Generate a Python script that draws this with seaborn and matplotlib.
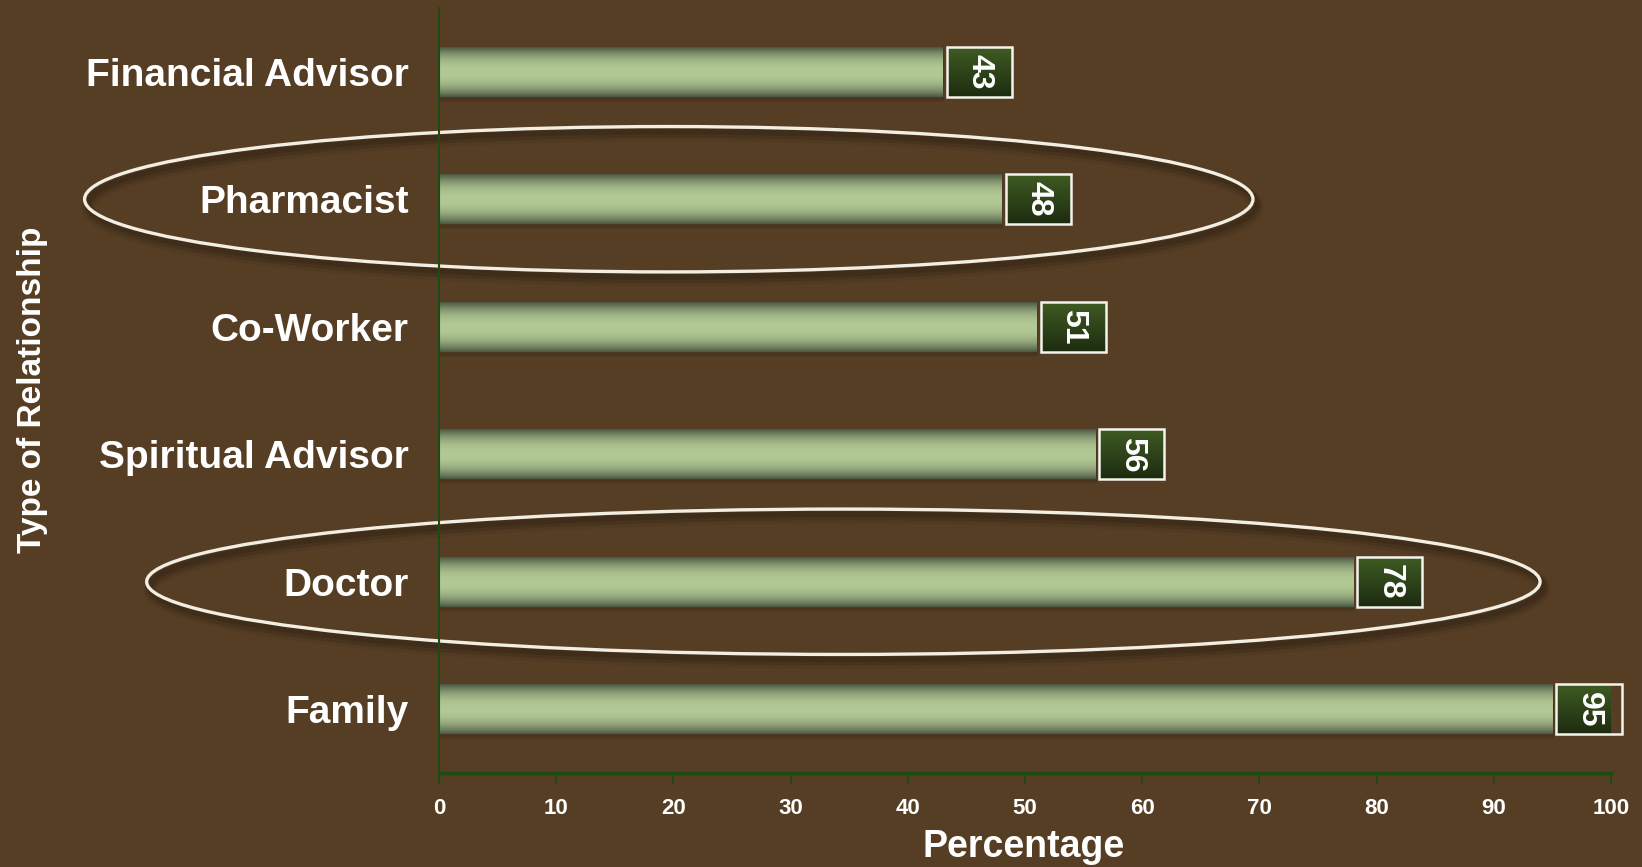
import numpy as np
import pandas as pd
import matplotlib
matplotlib.use("Agg")
import matplotlib.pyplot as plt
import seaborn as sns
from matplotlib.patches import Ellipse, Rectangle
from matplotlib.colors import to_rgb

# ---- data ----
categories = ["Financial Advisor", "Pharmacist", "Co-Worker",
              "Spiritual Advisor", "Doctor", "Family"]
percentages = [43, 48, 51, 56, 78, 95]
x_ticks = [0, 10, 20, 30, 40, 50, 60, 70, 80, 90, 100]
highlighted = ["Pharmacist", "Doctor"]

BG = "#563e24"
AXIS_GREEN = "#1f4a10"
BAR_LIGHT = "#b2c995"
BAR_DARK = "#4e5944"
BOX_TOP = "#3f5c23"
BOX_BOT = "#1d2b10"

sns.set_theme(style="white")
plt.rcParams['font.family'] = ['Liberation Sans', 'DejaVu Sans']
plt.rcParams['font.weight'] = 'bold'

fig = plt.figure(figsize=(16.42, 8.67), dpi=100, facecolor=BG)
ax = fig.add_axes([0.2674, 0.1084, 0.7137, 0.8824])
ax.set_facecolor(BG)

df = pd.DataFrame({"Relationship": categories, "Percentage": percentages})
sns.barplot(data=df, x="Percentage", y="Relationship", order=categories,
            orient="h", width=0.39, color=BAR_LIGHT, edgecolor="#4a3a22",
            linewidth=1.0, saturation=1, ax=ax, zorder=2)

# gradient fill for bars
t = np.linspace(0, 1, 64)
prof = np.abs(2 * t - 1) ** 2.2
light = np.array(to_rgb(BAR_LIGHT))
dark = np.array(to_rgb(BAR_DARK))
bar_grad = (light[None, :] * (1 - prof[:, None]) + dark[None, :] * prof[:, None])[:, None, :]

top = np.array(to_rgb(BOX_TOP))
bot = np.array(to_rgb(BOX_BOT))
box_grad = (top[None, :] * (1 - t[:, None]) + bot[None, :] * t[:, None])[:, None, :]

box_gap = 0.35
box_w = 5.55
for patch, val in zip(ax.patches, percentages):
    x0 = patch.get_x()
    y0 = patch.get_y()
    w = patch.get_width()
    h = patch.get_height()
    # soft shadow under bar
    for k, a in [(0.04, 0.07), (0.025, 0.08)]:
        ax.add_patch(Rectangle((x0, y0 + k), w + 0.1, h, facecolor="black",
                               edgecolor="none", alpha=a, zorder=1))
    im = ax.imshow(bar_grad, extent=[x0, x0 + w, y0 + h, y0], origin="upper",
                   aspect="auto", zorder=3, interpolation="bilinear")
    im.set_clip_path(patch)
    # value box
    bx = x0 + w + box_gap
    ax.imshow(box_grad, extent=[bx, bx + box_w, y0 + h, y0], origin="upper",
              aspect="auto", zorder=4, interpolation="bilinear")
    ax.add_patch(Rectangle((bx, y0), box_w, h, facecolor="none",
                           edgecolor="#f4f4ee", linewidth=1.8, zorder=5,
                           clip_on=False))
    ax.text(bx + box_w / 2, y0 + h / 2, f"{val}", rotation=-90,
            ha="center", va="center", color="white", fontsize=23,
            fontweight="bold", zorder=6, clip_on=False)

# highlight ellipses
ellipse_specs = {"Pharmacist": (19.6, 99.7), "Doctor": (34.5, 118.9)}
for name in highlighted:
    yi = categories.index(name)
    cx, wd = ellipse_specs[name]
    for off, lw, a in [(0.06, 10, 0.06), (0.05, 7, 0.09), (0.04, 4, 0.12)]:
        ax.add_patch(Ellipse((cx + 0.3, yi + off), wd, 1.14, facecolor="none",
                             edgecolor="black", linewidth=lw, alpha=a,
                             zorder=6, clip_on=False))
    ax.add_patch(Ellipse((cx, yi), wd, 1.14, facecolor="none",
                         edgecolor="#f2eee2", linewidth=2.4, zorder=7,
                         clip_on=False))

ax.set_xlim(0, 100)
ax.set_ylim(5.5, -0.5)
ax.set_xticks(x_ticks)
ax.set_xticklabels([str(v) for v in x_ticks])
ax.tick_params(axis="x", colors=AXIS_GREEN, length=8, width=1.5,
               direction="out", pad=10, labelsize=16, labelcolor="white",
               bottom=True)
ax.tick_params(axis="y", length=0, pad=22, labelsize=28, labelcolor="white")
for lab in ax.get_xticklabels() + ax.get_yticklabels():
    lab.set_fontweight("bold")

for s in ["top", "right"]:
    ax.spines[s].set_visible(False)
ax.spines["left"].set_color(AXIS_GREEN)
ax.spines["left"].set_linewidth(1.5)
ax.spines["bottom"].set_color(AXIS_GREEN)
ax.spines["bottom"].set_linewidth(2.5)
ax.spines["left"].set_zorder(8)

ax.set_xlabel("")
ax.set_ylabel("")
fig.text(33 / 1642, 1 - 390 / 867, "Type of Relationship", rotation=90,
         ha="center", va="center", color="white", fontsize=24, fontweight="bold")
fig.text(1024 / 1642, 0.011, "Percentage", ha="center", va="baseline",
         color="white", fontsize=27, fontweight="bold")

fig.savefig("out.png", dpi=100, facecolor=BG)
